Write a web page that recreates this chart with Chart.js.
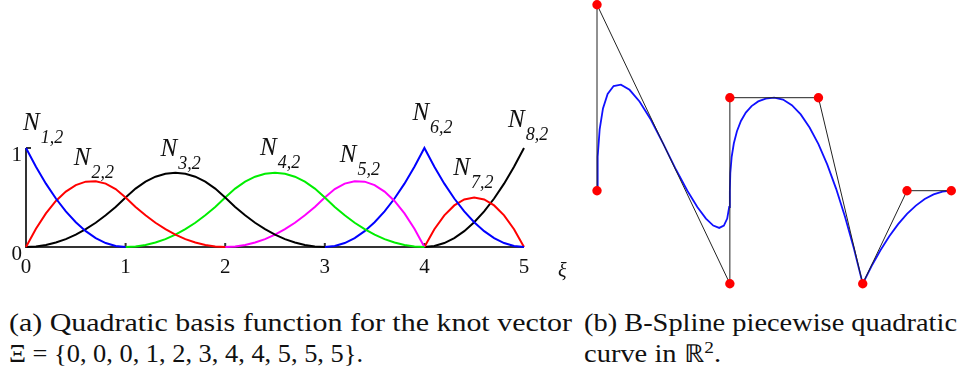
<!DOCTYPE html>
<html>
<head>
<meta charset="utf-8">
<script src="https://cdn.jsdelivr.net/npm/chart.js@4.4.1/dist/chart.umd.min.js"></script>
<style>
  body { margin: 0; background: #fff; width: 963px; height: 375px; position: relative; overflow: hidden; }
  #basis { position: absolute; left: 0; top: 0; }
  #curve { position: absolute; left: 580px; top: 0; }
  .cap { position: absolute; font-family: 'Liberation Serif', serif;
         font-size: 25px; line-height: 25px; white-space: nowrap; transform-origin: 0 0; color: #111; }
  .cap sup { font-size: 17px; line-height: 0; vertical-align: 9px; }
</style>
</head>
<body>
<canvas id="basis" width="580" height="295" style="width:580px;height:295px"></canvas>
<canvas id="curve" width="383" height="295" style="width:383px;height:295px"></canvas>

<div class="cap" style="left:9px;top:310px" data-w="563">(a) Quadratic basis function for the knot vector</div>
<div class="cap" style="left:9px;top:341px" data-w="354">Ξ = {0, 0, 0, 1, 2, 3, 4, 4, 5, 5, 5}.</div>
<div class="cap" style="left:584px;top:310px" data-w="373">(b) B-Spline piecewise quadratic</div>
<div class="cap" style="left:584px;top:341px" data-w="137">curve in ℝ<sup>2</sup>.</div>

<script>
// parameter axis ticks and value ticks
const knotTicks = [0, 1, 2, 3, 4, 5];
const valueTicks = [0, 1];

// sample positions along the parameter axis
const xi = [0, 0.1, 0.2, 0.3, 0.4, 0.5, 0.6, 0.7, 0.8, 0.9,
  1, 1.1, 1.2, 1.3, 1.4, 1.5, 1.6, 1.7, 1.8, 1.9,
  2, 2.1, 2.2, 2.3, 2.4, 2.5, 2.6, 2.7, 2.8, 2.9,
  3, 3.1, 3.2, 3.3, 3.4, 3.5, 3.6, 3.7, 3.8, 3.9,
  4, 4.1, 4.2, 4.3, 4.4, 4.5, 4.6, 4.7, 4.8, 4.9, 5];

// basis function values over their support
const n1 = [1, 0.81, 0.64, 0.49, 0.36, 0.25, 0.16, 0.09, 0.04, 0.01, 0];
const n2 = [0, 0.185, 0.34, 0.465, 0.56, 0.625, 0.66, 0.665, 0.64, 0.585, 0.5,
  0.405, 0.32, 0.245, 0.18, 0.125, 0.08, 0.045, 0.02, 0.005, 0];
const n3 = [0, 0.005, 0.02, 0.045, 0.08, 0.125, 0.18, 0.245, 0.32, 0.405, 0.5,
  0.59, 0.66, 0.71, 0.74, 0.75, 0.74, 0.71, 0.66, 0.59, 0.5,
  0.405, 0.32, 0.245, 0.18, 0.125, 0.08, 0.045, 0.02, 0.005, 0];
const n4 = [0, 0.005, 0.02, 0.045, 0.08, 0.125, 0.18, 0.245, 0.32, 0.405, 0.5,
  0.59, 0.66, 0.71, 0.74, 0.75, 0.74, 0.71, 0.66, 0.59, 0.5,
  0.405, 0.32, 0.245, 0.18, 0.125, 0.08, 0.045, 0.02, 0.005, 0];
const n5 = [0, 0.005, 0.02, 0.045, 0.08, 0.125, 0.18, 0.245, 0.32, 0.405, 0.5,
  0.585, 0.64, 0.665, 0.66, 0.625, 0.56, 0.465, 0.34, 0.185, 0];
const n6 = [0, 0.01, 0.04, 0.09, 0.16, 0.25, 0.36, 0.49, 0.64, 0.81, 1,
  0.81, 0.64, 0.49, 0.36, 0.25, 0.16, 0.09, 0.04, 0.01, 0];
const n7 = [0, 0.18, 0.32, 0.42, 0.48, 0.5, 0.48, 0.42, 0.32, 0.18, 0];
const n8 = [0, 0.01, 0.04, 0.09, 0.16, 0.25, 0.36, 0.49, 0.64, 0.81, 1];

const basisValues = [n1, n2, n3, n4, n5, n6, n7, n8];
const basisFrom = [0, 0, 0, 10, 20, 30, 40, 40];   // index into xi where each support starts
const basisSubs = ['1,2', '2,2', '3,2', '4,2', '5,2', '6,2', '7,2', '8,2'];

// control polygon
const ctrlX = [0, 0, 3, 3, 5, 6, 7, 8];
const ctrlY = [1, 3, 0, 2, 2, 0, 1, 1];

// points along the spline curve
const curveX = [0, 0.015, 0.06, 0.135, 0.24, 0.375, 0.54, 0.735, 0.96, 1.215, 1.5,
  1.785, 2.04, 2.265, 2.46, 2.625, 2.76, 2.865, 2.94, 2.985, 3,
  3.01, 3.04, 3.09, 3.16, 3.25, 3.36, 3.49, 3.64, 3.81, 4,
  4.2, 4.4, 4.6, 4.8, 5, 5.2, 5.4, 5.6, 5.8, 6,
  6.2, 6.4, 6.6, 6.8, 7, 7.2, 7.4, 7.6, 7.8, 8];
const curveY = [1, 1.365, 1.66, 1.885, 2.04, 2.125, 2.14, 2.085, 1.96, 1.765, 1.5,
  1.225, 1, 0.825, 0.7, 0.625, 0.6, 0.625, 0.7, 0.825, 1,
  1.19, 1.36, 1.51, 1.64, 1.75, 1.84, 1.91, 1.96, 1.99, 2,
  1.98, 1.92, 1.82, 1.68, 1.5, 1.28, 1.02, 0.72, 0.38, 0,
  0.19, 0.36, 0.51, 0.64, 0.75, 0.84, 0.91, 0.96, 0.99, 1];

const basisColors = ['#0000ff', '#ff0000', '#000000', '#00ee00', '#ff00ff', '#0000ff', '#ff0000', '#000000'];
// where each N label sits, in (xi, value) coordinates
const labelAt = [[-0.03, 1.18], [0.48, 0.83], [1.35, 0.92], [2.35, 0.93],
  [3.15, 0.86], [3.88, 1.28], [4.29, 0.73], [4.84, 1.21]];

const serif = "'Liberation Serif', serif";

const basisDecor = {
  id: 'basisDecor',
  beforeDatasetsDraw(chart) {
    const { ctx, scales: { x, y } } = chart;
    const x0 = x.getPixelForValue(0);
    const xEnd = x.getPixelForValue(knotTicks[knotTicks.length - 1]);
    const y0 = y.getPixelForValue(0);
    const y1 = y.getPixelForValue(1);

    ctx.save();
    ctx.strokeStyle = '#333';
    ctx.lineWidth = 2;
    ctx.beginPath();
    ctx.moveTo(x0, y1);
    ctx.lineTo(x0, y0);
    ctx.lineTo(xEnd, y0);
    ctx.moveTo(x0, y1);
    ctx.lineTo(x0 + 5, y1);
    knotTicks.slice(1, -1).forEach(k => {
      const px = x.getPixelForValue(k);
      ctx.moveTo(px, y0);
      ctx.lineTo(px, y0 - 4);
    });
    ctx.stroke();

    ctx.fillStyle = '#111';
    ctx.font = '21px ' + serif;
    ctx.textAlign = 'center';
    ctx.textBaseline = 'alphabetic';
    knotTicks.forEach(k => ctx.fillText(String(k), x.getPixelForValue(k), y0 + 26));
    ctx.textAlign = 'right';
    valueTicks.forEach(v => ctx.fillText(String(v), x0 - 4, y.getPixelForValue(v) + 13));

    ctx.textAlign = 'left';
    ctx.font = 'italic 20px ' + serif;
    ctx.fillText('ξ', xEnd + 34, y0 + 30);
    ctx.restore();
  },
  afterDatasetsDraw(chart) {
    const { ctx, scales: { x, y } } = chart;
    ctx.save();
    ctx.fillStyle = '#111';
    ctx.textAlign = 'left';
    ctx.textBaseline = 'alphabetic';
    labelAt.forEach(([lx, ly], i) => {
      const px = x.getPixelForValue(lx);
      const py = y.getPixelForValue(ly);
      ctx.font = 'italic 25px ' + serif;
      ctx.fillText('N', px, py);
      const w = ctx.measureText('N').width;
      ctx.font = 'italic 18px ' + serif;
      ctx.fillText(basisSubs[i], px + w + 1, py + 13);
    });
    ctx.restore();
  }
};

new Chart(document.getElementById('basis').getContext('2d'), {
  type: 'line',
  data: {
    datasets: basisValues.map((vals, i) => ({
      label: 'N' + basisSubs[i],
      data: vals.map((v, j) => ({ x: xi[basisFrom[i] + j], y: v })),
      borderColor: basisColors[i],
      borderWidth: 2,
      pointRadius: 0,
      tension: 0,
      clip: false
    }))
  },
  options: {
    responsive: false,
    animation: false,
    events: [],
    layout: { padding: { left: 26, right: 56, top: 148, bottom: 48 } },
    plugins: { legend: { display: false }, tooltip: { enabled: false } },
    scales: {
      x: { type: 'linear', min: 0, max: 5, display: false },
      y: { type: 'linear', min: 0, max: 1, display: false }
    }
  },
  plugins: [basisDecor]
});

new Chart(document.getElementById('curve').getContext('2d'), {
  type: 'scatter',
  data: {
    datasets: [
      {
        label: 'control points',
        data: ctrlX.map((v, i) => ({ x: v, y: ctrlY[i] })),
        showLine: false,
        pointRadius: 4.7,
        pointBackgroundColor: '#ff0000',
        pointBorderWidth: 0,
        clip: false,
        order: 0
      },
      {
        label: 'control polygon',
        data: ctrlX.map((v, i) => ({ x: v, y: ctrlY[i] })),
        showLine: true,
        borderColor: '#222',
        borderWidth: 1,
        pointRadius: 0,
        clip: false,
        order: 1
      },
      {
        label: 'curve',
        data: curveX.map((v, i) => ({ x: v, y: curveY[i] })),
        showLine: true,
        borderColor: '#1010ff',
        borderWidth: 1.8,
        pointRadius: 0,
        tension: 0,
        clip: false,
        order: 2
      }
    ]
  },
  options: {
    responsive: false,
    animation: false,
    events: [],
    layout: { padding: { left: 17, right: 11.7, top: 4, bottom: 11.3 } },
    plugins: { legend: { display: false }, tooltip: { enabled: false } },
    scales: {
      x: { type: 'linear', min: 0, max: 8, display: false },
      y: { type: 'linear', min: 0, max: 3, display: false }
    }
  }
});

// stretch each caption line to its set width
document.querySelectorAll('.cap').forEach(el => {
  const w = el.getBoundingClientRect().width;
  el.style.transform = 'scaleX(' + (el.dataset.w / w) + ')';
});
</script>
</body>
</html>
